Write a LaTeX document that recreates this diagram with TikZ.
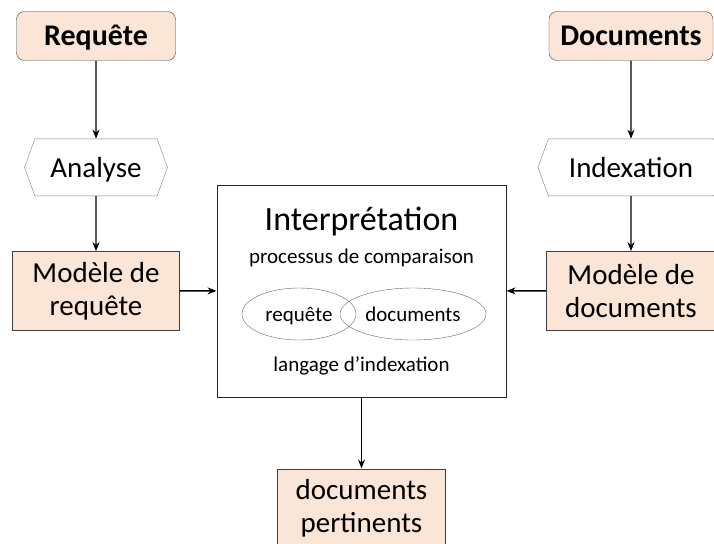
\documentclass[tikz,border=0pt]{standalone}
\usepackage{fontspec}
\setmainfont{Carlito}
\usetikzlibrary{positioning,shapes.geometric,shapes.symbols,arrows.meta}
\definecolor{peach}{RGB}{251,229,214}
\definecolor{edge}{RGB}{64,64,64}
\definecolor{hexedge}{RGB}{128,128,128}
\tikzset{
  inputbox/.style={draw=edge, fill=peach, rounded corners=8pt, minimum width=159pt, minimum height=49pt, inner sep=0pt, text height=22pt, text depth=3pt, font=\fontsize{30}{35}\selectfont\bfseries},
  modelbox/.style={draw=edge, fill=peach, minimum width=167pt, minimum height=79pt, inner sep=0pt, align=center, font=\fontsize{29}{33}\selectfont},
  processhex/.style={draw=hexedge, signal, signal to=west and east, signal pointer angle=140, minimum width=143pt, minimum height=57pt, inner sep=0pt, text height=22pt, text depth=2pt, font=\fontsize{29}{33}\selectfont},
  setellipse/.style={draw=edge!80, ellipse, minimum height=52pt, inner sep=0pt, text height=15pt, text depth=1pt, font=\fontsize{21}{25}\selectfont},
  flow/.style={->, >={Stealth[length=9pt,width=7pt]}, line width=1.3pt}
}
\begin{document}
\begin{tikzpicture}[x=1pt, y=1pt]
    \clip (0,0) rectangle (714,-543);
    \node[inputbox] (query) at (96,-36) {Requête};
    \node[processhex, below=78pt of query] (analyse) {Analyse};
    \node[modelbox, below=55pt of analyse] (querymodel) {Modèle de\\requête};

    \node[inputbox, minimum width=164pt] (docs) at (631,-36) {Documents};
    \node[processhex, minimum width=186pt, below=78pt of docs] (indexing) {Indexation};
    \node[modelbox, minimum width=170pt, below=55pt of indexing] (docmodel) {Modèle de\\documents};

    \node[draw=black!85, line width=1pt, minimum width=289pt, minimum height=212pt] (interp) at (361.5,-291) {};
    \node[font=\fontsize{34}{40}\selectfont] (title) at (361.5,-221) {Interprétation};
    \node[font=\fontsize{21}{25}\selectfont] (compare) at (361.5,-258) {processus de comparaison};
    \node[setellipse, minimum width=114pt] (querypart) at (299,-314) {requête};
    \node[setellipse, minimum width=146pt] (docpart) at (413,-314) {documents};
    \node[font=\fontsize{21}{25}\selectfont] (language) at (361.5,-366) {langage d’indexation};

    \node[modelbox, minimum width=168pt, below=71pt of interp] (relevant) {documents\\pertinents};

    \draw[flow] (query) -- (analyse);
    \draw[flow] (analyse) -- (querymodel);
    \draw[flow] (docs) -- (indexing);
    \draw[flow] (indexing) -- (docmodel);
    \draw[flow] (querymodel) -- (interp);
    \draw[flow] (docmodel) -- (interp);
    \draw[flow] (interp) -- (relevant);
\end{tikzpicture}
\end{document}
